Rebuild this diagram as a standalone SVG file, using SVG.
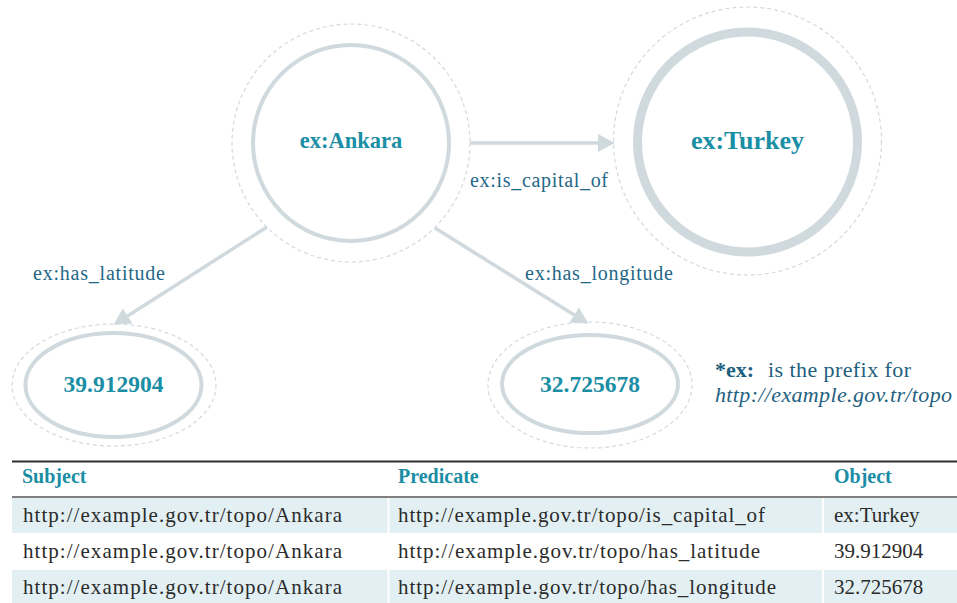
<svg xmlns="http://www.w3.org/2000/svg" width="957" height="603" viewBox="0 0 957 603">
<defs>
<style>
.inner{fill:#ffffff;stroke:#d0d9de;stroke-width:4}
.outer{fill:none;stroke:#d3dade;stroke-width:1.2;stroke-dasharray:4 3}
.nlabel{font-family:"Liberation Serif",serif;font-weight:bold;fill:#1a8ea5;text-anchor:middle}
.elabel{font-family:"Liberation Serif",serif;font-size:20px;fill:#1f6888}
.edge{fill:none;stroke:#d0d9de;stroke-width:3.5}
.hdr{font-family:"Liberation Serif",serif;font-size:20px;font-weight:bold;fill:#1a8ea5}
.cell{font-family:"Liberation Serif",serif;font-size:21px;fill:#2b2b2b}
.note{font-family:"Liberation Serif",serif;font-size:22px;fill:#1f5f80}
</style>
<marker id="arr" markerUnits="userSpaceOnUse" markerWidth="20" markerHeight="20" viewBox="0 -9 16 18" refX="0" refY="0" orient="auto">
<path d="M0,-8 L15,0 L0,8 z" fill="#d0d9de"/>
</marker>
</defs>
<rect width="957" height="603" fill="#ffffff"/>

<g id="connectors">
<path class="edge" d="M470,143 L598,143" marker-end="url(#arr)"/>
<path class="edge" d="M267,227 L127.6,315.9" marker-end="url(#arr)"/>
<path class="edge" d="M435,228 L574.3,315" marker-end="url(#arr)"/>
<text class="elabel" x="470" y="187" textLength="138">ex:is_capital_of</text>
<text class="elabel" x="33" y="280" textLength="132">ex:has_latitude</text>
<text class="elabel" x="525" y="280" textLength="148">ex:has_longitude</text>
</g>

<g id="node-ankara">
<circle class="outer" cx="351" cy="143" r="119"/>
<circle class="inner" cx="351" cy="143" r="98"/>
<text class="nlabel" x="351" y="148" font-size="22.5">ex:Ankara</text>
</g>

<g id="node-turkey">
<circle class="outer" cx="747.5" cy="141" r="134"/>
<circle cx="747.5" cy="142" r="110" fill="#ffffff" stroke="#d0d9de" stroke-width="9"/>
<text class="nlabel" x="747.5" y="149" font-size="26">ex:Turkey</text>
</g>

<g id="node-latitude">
<ellipse class="outer" cx="114" cy="385" rx="102" ry="61"/>
<ellipse class="inner" cx="113.5" cy="385" rx="88" ry="52"/>
<text class="nlabel" x="113.5" y="392" font-size="23.5">39.912904</text>
</g>

<g id="node-longitude">
<ellipse class="outer" cx="590" cy="385" rx="102" ry="63"/>
<ellipse class="inner" cx="590" cy="384" rx="88" ry="49"/>
<text class="nlabel" x="590" y="392" font-size="23.5">32.725678</text>
</g>

<g id="note">
<text class="note" x="715" y="377" font-weight="bold">*ex:</text>
<text class="note" x="768" y="377" textLength="143">is the prefix for</text>
<text class="note" x="715" y="402" font-style="italic" textLength="237">http://example.gov.tr/topo</text>
</g>

<g id="table">
<rect x="12" y="498" width="945" height="35" fill="#e3f0f3"/>
<rect x="12" y="570" width="945" height="33" fill="#e3f0f3"/>
<line x1="388.5" y1="498" x2="388.5" y2="533" stroke="#ffffff" stroke-width="2"/>
<line x1="823" y1="498" x2="823" y2="533" stroke="#ffffff" stroke-width="2"/>
<line x1="388.5" y1="570" x2="388.5" y2="603" stroke="#ffffff" stroke-width="2"/>
<line x1="823" y1="570" x2="823" y2="603" stroke="#ffffff" stroke-width="2"/>
<line x1="12" y1="461.5" x2="957" y2="461.5" stroke="#2e2e2e" stroke-width="2"/>
<line x1="12" y1="497" x2="957" y2="497" stroke="#555555" stroke-width="1.5"/>
<text class="hdr" x="22" y="483">Subject</text>
<text class="hdr" x="398" y="483">Predicate</text>
<text class="hdr" x="834" y="483">Object</text>
<text class="cell" x="23" y="522" textLength="319">http://example.gov.tr/topo/Ankara</text>
<text class="cell" x="398" y="522" textLength="367">http://example.gov.tr/topo/is_capital_of</text>
<text class="cell" x="834" y="522">ex:Turkey</text>
<text class="cell" x="23" y="558" textLength="319">http://example.gov.tr/topo/Ankara</text>
<text class="cell" x="398" y="558" textLength="362">http://example.gov.tr/topo/has_latitude</text>
<text class="cell" x="834" y="558">39.912904</text>
<text class="cell" x="23" y="594" textLength="319">http://example.gov.tr/topo/Ankara</text>
<text class="cell" x="398" y="594" textLength="378">http://example.gov.tr/topo/has_longitude</text>
<text class="cell" x="834" y="594">32.725678</text>
</g>
</svg>
